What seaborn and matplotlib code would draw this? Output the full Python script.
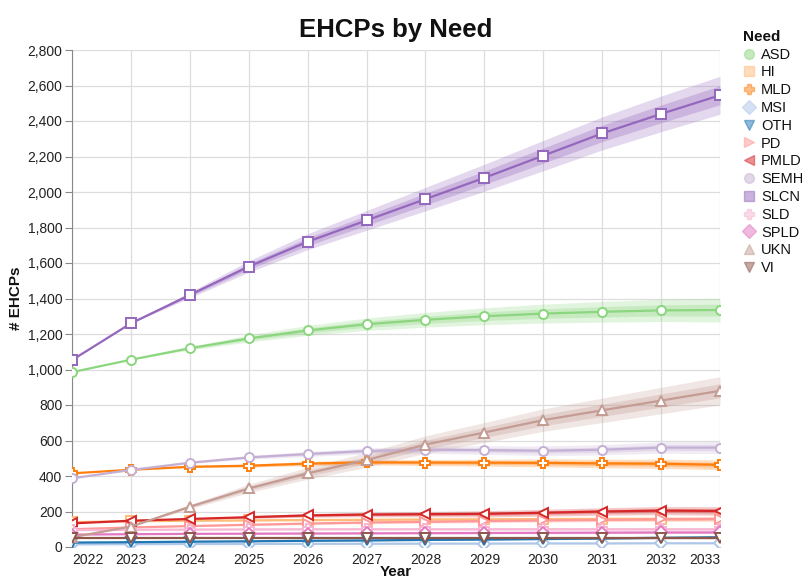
import numpy as np
import pandas as pd
import matplotlib
matplotlib.use("Agg")
import matplotlib.pyplot as plt
from matplotlib.lines import Line2D
import seaborn as sns

years = [2022, 2023, 2024, 2025, 2026, 2027, 2028, 2029, 2030, 2031, 2032, 2033]
needs = ["ASD", "HI", "MLD", "MSI", "OTH", "PD", "PMLD", "SEMH", "SLCN", "SLD", "SPLD", "UKN", "VI"]

ASD = [985, 1055, 1120, 1175, 1220, 1255, 1280, 1300, 1315, 1325, 1333, 1335]
HI = [140, 145, 148, 150, 152, 153, 155, 156, 157, 158, 158, 158]
MLD = [415, 435, 452, 458, 470, 477, 476, 475, 474, 471, 469, 463]
MSI = [15, 16, 17, 17, 18, 18, 19, 19, 20, 20, 21, 21]
OTH = [25, 27, 30, 32, 35, 37, 40, 42, 45, 48, 52, 55]
PD = [100, 110, 118, 125, 132, 138, 142, 146, 150, 153, 156, 158]
PMLD = [133, 148, 158, 168, 178, 183, 185, 187, 193, 200, 205, 203]
SEMH = [387, 434, 475, 505, 524, 541, 548, 546, 542, 548, 560, 560]
SLCN = [1053, 1260, 1420, 1580, 1720, 1840, 1960, 2080, 2205, 2330, 2440, 2545]
SLD = [95, 97, 98, 99, 100, 100, 100, 100, 100, 100, 100, 100]
SPLD = [70, 72, 74, 75, 76, 77, 78, 79, 80, 81, 82, 82]
UKN = [55, 115, 227, 330, 415, 490, 577, 645, 715, 770, 825, 880]
VI = [50, 50, 50, 50, 50, 50, 50, 50, 50, 50, 50, 50]

series = {"ASD": ASD, "HI": HI, "MLD": MLD, "MSI": MSI, "OTH": OTH, "PD": PD,
          "PMLD": PMLD, "SEMH": SEMH, "SLCN": SLCN, "SLD": SLD, "SPLD": SPLD,
          "UKN": UKN, "VI": VI}

# outer band half-width at 2033, relative to value
band_rel_2033 = {"ASD": 0.05, "HI": 0.08, "MLD": 0.06, "MSI": 0.1, "OTH": 0.1, "PD": 0.08,
                 "PMLD": 0.12, "SEMH": 0.06, "SLCN": 0.042, "SLD": 0.08, "SPLD": 0.08,
                 "UKN": 0.09, "VI": 0.08}
# band growth by year (fraction of final width)
band_profile = [0, 0, 0.15, 0.3, 0.42, 0.52, 0.62, 0.71, 0.8, 0.87, 0.94, 1.0]

colors = {"ASD": "#8bd67f", "HI": "#ffbb78", "MLD": "#ff7f0e", "MSI": "#aec7e8",
          "OTH": "#1f77b4", "PD": "#ff9896", "PMLD": "#d62728", "SEMH": "#c5b0d5",
          "SLCN": "#9467bd", "SLD": "#f7b6d2", "SPLD": "#e377c2", "UKN": "#c49c94",
          "VI": "#8c564b"}
markers = {"ASD": "o", "HI": "s", "MLD": "P", "MSI": "D", "OTH": "v", "PD": ">",
           "PMLD": "<", "SEMH": "o", "SLCN": "s", "SLD": "P", "SPLD": "D", "UKN": "^",
           "VI": "v"}

rows = []
for n in needs:
    for y, v in zip(years, series[n]):
        rows.append({"Year": y, "EHCPs": v, "Need": n})
df = pd.DataFrame(rows)

sns.set_style("white")
plt.rcParams["font.family"] = ["Liberation Sans", "DejaVu Sans"]
plt.rcParams["text.color"] = "#111111"

fig = plt.figure(figsize=(8.03, 5.81), dpi=100)
ax = fig.add_axes([72 / 803, 1 - 547 / 581, (720 - 72) / 803, (547 - 50) / 581])

# confidence bands
for n in needs:
    vals = np.array(series[n], dtype=float)
    w = np.array(band_profile) * band_rel_2033[n] * vals[-1]
    ax.fill_between(years, vals - w, vals + w, color=colors[n], alpha=0.25, lw=0, zorder=1)
    ax.fill_between(years, vals - 0.5 * w, vals + 0.5 * w, color=colors[n], alpha=0.3, lw=0, zorder=1)

sns.lineplot(data=df, x="Year", y="EHCPs", hue="Need", style="Need",
             palette=colors, markers=markers, dashes=False, hue_order=needs,
             style_order=needs, ax=ax, legend=False, linewidth=1.6,
             markersize=6.5, zorder=3)
for line in ax.lines:
    c = line.get_color()
    line.set_markeredgecolor(c)
    line.set_markerfacecolor("white")
    line.set_markeredgewidth(1.4)

ax.set_xlim(2022, 2033)
ax.set_ylim(0, 2800)
ax.set_xticks(years)
ax.set_yticks(range(0, 2801, 200))
ax.set_yticklabels([f"{v:,}" for v in range(0, 2801, 200)])
ax.grid(True, color="#dddddd", lw=0.9, zorder=0)
ax.set_axisbelow(True)
for s in ["top", "right", "bottom"]:
    ax.spines[s].set_visible(False)
ax.spines["left"].set_color("#888888")
ax.tick_params(axis="y", length=5, color="#888888", labelsize=10, labelcolor="#222222", pad=2, left=True)
ax.tick_params(axis="x", length=0, labelsize=10, labelcolor="#222222", pad=4)
xl = ax.get_xticklabels()
xl[0].set_horizontalalignment("left")
xl[-1].set_horizontalalignment("right")

ax.set_xlabel("Year", fontsize=11, fontweight="bold", labelpad=-1, color="#111111")
ax.set_ylabel("# EHCPs", fontsize=11, fontweight="bold", labelpad=3, color="#111111")
fig.text(396 / 803, 1 - 30 / 581, "EHCPs by Need", ha="center", va="center",
         fontsize=18.5, fontweight="bold", color="#111111")

handles = [Line2D([], [], linestyle="none", marker=markers[n], markersize=7,
                  markerfacecolor=colors[n], markeredgecolor=colors[n], alpha=0.5,
                  label=n) for n in needs]
leg = fig.legend(handles=handles, title="Need", loc="upper left",
                 bbox_to_anchor=(737 / 803, 1 - 24 / 581), frameon=False,
                 fontsize=10.5, title_fontsize=11, handlelength=0.8,
                 handletextpad=0.45, labelspacing=0.26, borderaxespad=0)
leg.get_title().set_fontweight("bold")
leg._legend_box.align = "left"

fig.savefig("out.png", dpi=100)
